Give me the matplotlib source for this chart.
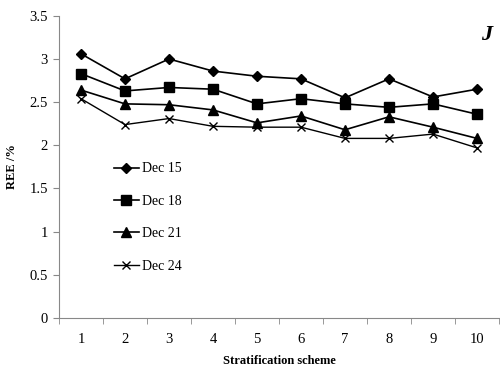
import numpy as np
import matplotlib
matplotlib.use('Agg')
import matplotlib.pyplot as plt

plt.rcParams['font.family'] = ['Liberation Serif', 'DejaVu Serif']

schemes = ['1', '2', '3', '4', '5', '6', '7', '8', '9', '10']
dec15 = [3.06, 2.77, 3.00, 2.86, 2.80, 2.77, 2.55, 2.77, 2.56, 2.65]
dec18 = [2.83, 2.63, 2.67, 2.65, 2.48, 2.54, 2.48, 2.44, 2.48, 2.36]
dec21 = [2.64, 2.48, 2.47, 2.41, 2.26, 2.34, 2.18, 2.33, 2.21, 2.08]
dec24 = [2.54, 2.24, 2.31, 2.22, 2.21, 2.21, 2.08, 2.08, 2.13, 1.97]

fig = plt.figure(figsize=(5, 3.68), dpi=100)
ax = fig.add_axes([0.118, 0.136, 0.88, 0.821])

x = np.arange(len(schemes))
ax.plot(x, dec15, color='black', lw=1.2, marker='D', ms=5, label='Dec 15')
ax.plot(x, dec18, color='black', lw=1.2, marker='s', ms=6.5, label='Dec 18')
ax.plot(x, dec21, color='black', lw=1.2, marker='^', ms=6.5, label='Dec 21')
ax.plot(x, dec24, color='black', lw=1.0, marker='x', ms=6, mew=1.0, label='Dec 24')

ax.set_xlim(-0.5, 9.5)
ax.set_ylim(0, 3.5)
ax.set_yticks(np.arange(0, 3.51, 0.5))
ax.set_yticklabels(['0', '0.5', '1', '1.5', '2', '2.5', '3', '3.5'])
ax.set_xticks(x)
ax.set_xticklabels(schemes)
ax.set_xticks(np.arange(-0.5, 10, 1), minor=True)
ax.tick_params(axis='x', which='major', length=0, pad=11, labelsize=10.5)
ax.tick_params(axis='x', which='minor', length=4, color='#888888', direction='out')
ax.tick_params(axis='y', length=4, color='#888888', labelsize=10.5, pad=4)

for s in ['top', 'right']:
    ax.spines[s].set_visible(False)
for s in ['left', 'bottom']:
    ax.spines[s].set_color('#888888')

ax.set_ylabel('REE /%', fontweight='bold', fontsize=9, labelpad=8)
ax.set_xlabel('Stratification scheme', fontweight='bold', fontsize=9, labelpad=6)

ax.legend(loc='upper left', bbox_to_anchor=(0.096, 0.556), frameon=False,
          fontsize=10, labelspacing=1.4, handlelength=1.8, handletextpad=0.2)

ax.text(0.985, 0.97, 'J', transform=ax.transAxes, fontsize=16,
        fontweight='bold', fontstyle='italic', ha='right', va='top')

fig.savefig('out.png', dpi=100)
